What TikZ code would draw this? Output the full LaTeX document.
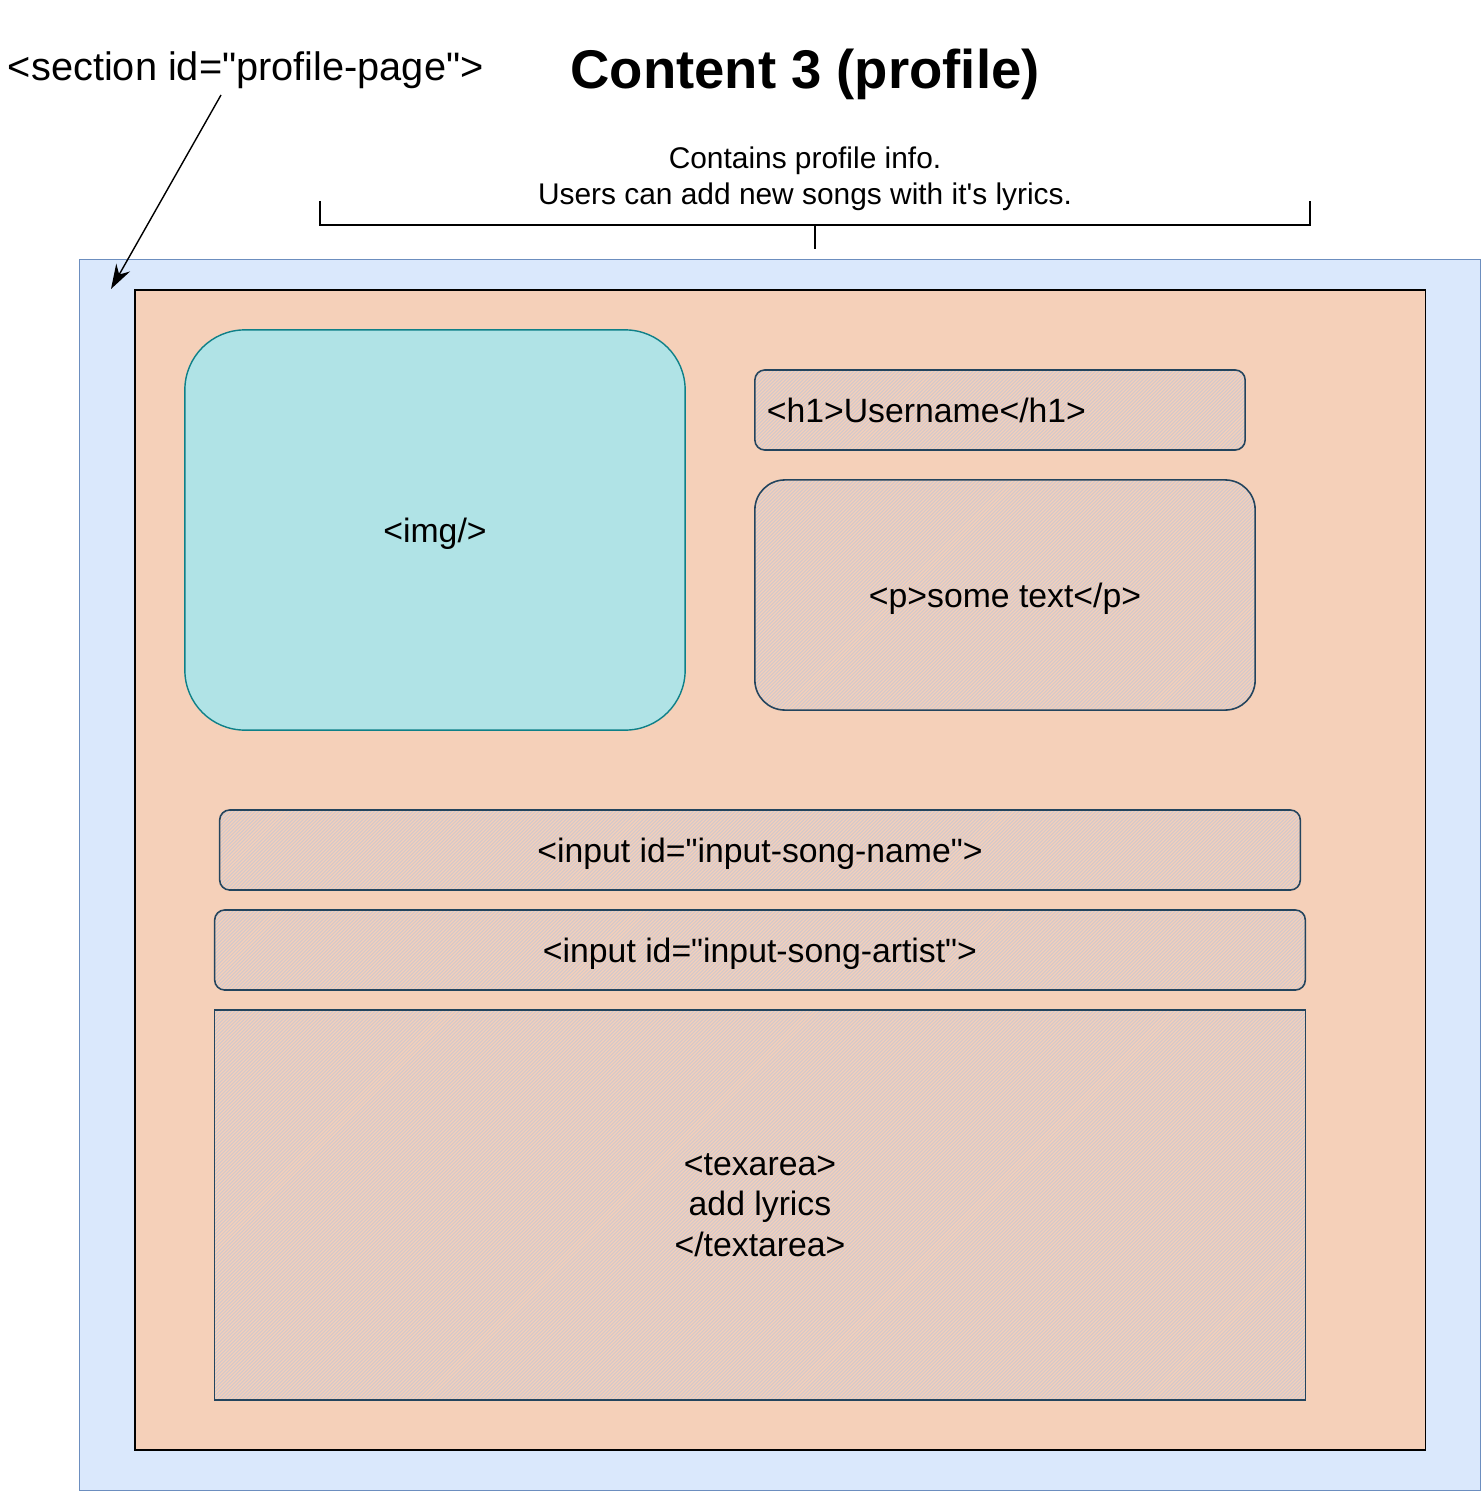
\documentclass[tikz,border=0pt]{standalone}
\usepackage{fontspec}
\setmainfont{Liberation Sans}
\usetikzlibrary{arrows.meta}
\definecolor{secfill}{HTML}{DAE8FC}
\definecolor{secline}{HTML}{6C8EBF}
\definecolor{peach}{HTML}{F5D0B9}
\definecolor{imgfill}{HTML}{B0E3E6}
\definecolor{imgline}{HTML}{0E8088}
\definecolor{sketchline}{HTML}{23445D}
\definecolor{hatch}{HTML}{D2C8CC}
\newcommand{\qq}{\textquotedbl}
\begin{document}
\begin{tikzpicture}[x=0.01cm,y=-0.01cm,inner sep=0pt,outer sep=0pt,
labelfont/.style={font=\fontsize{9.6}{11.5}\selectfont,text depth=0pt},
sectionbox/.style={draw=secline,fill=secfill,rectangle,line width=0.35pt},
contentbox/.style={draw=black,fill=peach,rectangle,line width=0.5pt},
imgbox/.style={draw=imgline,fill=imgfill,rectangle,rounded corners=0.6cm,line width=0.4pt,labelfont},
sketchbox/.style={draw=sketchline,fill=peach,rectangle,line width=0.45pt,labelfont,
  path picture={\coordinate (hsw) at (path picture bounding box.south west);
    \foreach \k in {0,...,430} \draw[hatch,line width=0.3pt] ([xshift=\k*0.035cm-4cm]hsw) -- ++(400,-400);}}]
\useasboundingbox (0,0) rectangle (1481,1491);
% titles
\draw (805,74) node[font=\bfseries\fontsize{15.5}{18}\selectfont] (title) {Content 3 (profile)};
\draw (8,70) node[anchor=west,font=\fontsize{11.3}{13}\selectfont] (seclabel) {<section id=\qq profile-page\qq>};
\draw (805,179) node[align=center,font=\fontsize{8.5}{10.2}\selectfont] (desc) {Contains profile info.\\Users can add new songs with it\textquotesingle s lyrics.};
% bracket
\draw[line width=0.7pt] (320,201) |- (1310,225) -- (1310,201);
\draw[line width=0.7pt] (815,225) -- (815,249);
% section and content
\draw (780,875) node[sectionbox,minimum width=14cm,minimum height=12.3cm] (section) {};
\draw (780,870) node[contentbox,minimum width=12.9cm,minimum height=11.6cm] (content) {};
\coordinate (arrstart) at (221,95);
\coordinate (arrend) at (111,289);
\draw[-{Stealth[length=7pt,width=4.5pt]},line width=0.4pt] (arrstart) -- (arrend);
% profile info
\draw (435,530) node[imgbox,minimum width=5cm,minimum height=4cm] (img) {<img/>};
\draw (1000,410) node[sketchbox,rounded corners=0.1cm,minimum width=4.9cm,minimum height=0.8cm,text width=4.66cm,align=left] (h1) {<h1>Username</h1>};
\draw (1005,595) node[sketchbox,rounded corners=0.3cm,minimum width=5cm,minimum height=2.3cm] (para) {<p>some text</p>};
% song form
\draw (760,850) node[sketchbox,rounded corners=0.1cm,minimum width=10.8cm,minimum height=0.8cm] (songname) {<input id=\qq input-song-name\qq>};
\draw (760,950) node[sketchbox,rounded corners=0.1cm,minimum width=10.9cm,minimum height=0.8cm] (songartist) {<input id=\qq input-song-artist\qq>};
\draw (760,1205) node[sketchbox,minimum width=10.9cm,minimum height=3.9cm,align=center] (lyrics) {<texarea>\\add lyrics\\</textarea>};
\end{tikzpicture}
\end{document}
